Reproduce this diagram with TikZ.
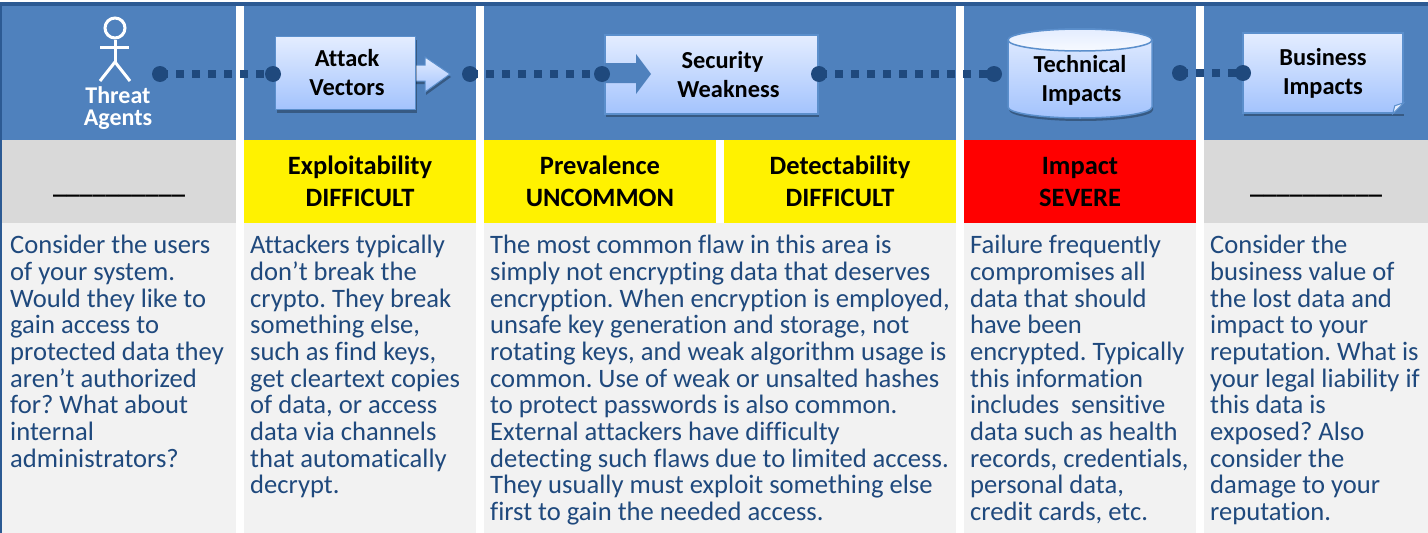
\documentclass[tikz,border=0pt]{standalone}
\usepackage{fontspec}
\setmainfont[Ligatures=NoCommon]{Carlito}
\usepackage{xcolor}
\usepackage{tikz}
\usetikzlibrary{positioning,shapes.geometric,shadows}
\frenchspacing
\definecolor{bandblue}{HTML}{4F81BD}
\definecolor{darkblue}{HTML}{1F497D}
\definecolor{topline}{HTML}{2C5A93}
\definecolor{bodygrey}{HTML}{F2F2F2}
\definecolor{headgrey}{HTML}{D9D9D9}
\definecolor{boxedge}{HTML}{5B8FCC}
\definecolor{boxtop}{HTML}{E4EDFF}
\definecolor{boxbottom}{HTML}{A3C3FD}
\tikzset{
  softshadow/.style={drop shadow={shadow xshift=1pt, shadow yshift=-3pt, opacity=.3, fill=black}},
  band/.style={shape=rectangle, anchor=north west, inner sep=0pt, outer sep=0pt, minimum height=#1},
  headcell/.style={band=83pt, align=center, font=\fontsize{26.5}{32}\selectfont\bfseries, text=black},
  ratecell/.style={headcell, execute at begin node={\vspace*{4pt}}},
  bodytext/.style={anchor=north west, inner sep=0pt, align=left, text=darkblue, font=\fontsize{26.6}{26.7}\selectfont},
  riskbox/.style={shape=rectangle, inner sep=0pt, align=center, draw=boxedge, line width=1.5pt, top color=boxtop, bottom color=boxbottom,
    font=\fontsize{24.4}{29}\selectfont\bfseries, text=black, softshadow},
  linkdot/.style={shape=circle, fill=darkblue, minimum size=16pt, inner sep=0pt},
  linkline/.style={darkblue, line width=8pt, dash pattern=on 8pt off 8pt},
  figline/.style={white, line width=3pt},
}
\begin{document}
\begin{tikzpicture}[x=1pt,y=-1pt]
\useasboundingbox (0,0) rectangle (1428,533);
% frame
\fill[topline] (0,2) rectangle (1428,6);
\fill[topline] (0,2) rectangle (2,533);
% top band
\node[band=134pt, minimum width=234pt, fill=bandblue] (bandthreat) at (2,6) {};
\node[band=134pt, minimum width=232pt, fill=bandblue] (bandattack) at (244,6) {};
\node[band=134pt, minimum width=472pt, fill=bandblue] (bandweak) at (484,6) {};
\node[band=134pt, minimum width=232pt, fill=bandblue] (bandtech) at (964,6) {};
\node[band=134pt, minimum width=224pt, fill=bandblue] (bandbiz) at (1204,6) {};
% rating cells
\node[headcell, minimum width=234pt, fill=headgrey] (cellthreat) at (2,140) {\rule{0pt}{24pt}\raisebox{0pt}[0pt][0pt]{\_\_\_\_\_\_\_\_\_\_}};
\node[ratecell, minimum width=232pt, fill=yellow] (cellexploit) at (244,140) {Exploitability\\DIFFICULT};
\node[ratecell, minimum width=232pt, fill=yellow] (cellprev) at (484,140) {Prevalence\\UNCOMMON};
\node[ratecell, minimum width=232pt, fill=yellow] (celldetect) at (724,140) {Detectability\\DIFFICULT};
\node[ratecell, minimum width=232pt, fill=red] (cellimpact) at (964,140) {Impact\\SEVERE};
\node[headcell, minimum width=224pt, fill=headgrey] (cellbiz) at (1204,140) {\rule{0pt}{24pt}\raisebox{0pt}[0pt][0pt]{\_\_\_\_\_\_\_\_\_\_}};
% body cells
\node[band=310pt, minimum width=234pt, fill=bodygrey] (bodythreat) at (2,223) {};
\node[band=310pt, minimum width=232pt, fill=bodygrey] (bodyattack) at (244,223) {};
\node[band=310pt, minimum width=472pt, fill=bodygrey] (bodyweak) at (484,223) {};
\node[band=310pt, minimum width=232pt, fill=bodygrey] (bodytech) at (964,223) {};
\node[band=310pt, minimum width=224pt, fill=bodygrey] (bodybiz) at (1204,223) {};
\node[bodytext] (textthreat) at (10,235) {Consider the users\\of your system.\\Would they like to\\gain access to\\protected data they\\aren’t authorized\\for? What about\\internal\\administrators?};
\node[bodytext] (textattack) at (250,235) {Attackers typically\\don’t break the\\crypto. They break\\something else,\\such as find keys,\\get cleartext copies\\of data, or access\\data via channels\\that automatically\\decrypt.};
\node[bodytext] (textweak) at (490,235) {The most common flaw in this area is\\simply not encrypting data that deserves\\encryption. When encryption is employed,\\unsafe key generation and storage, not\\rotating keys, and weak algorithm usage is\\common. Use of weak or unsalted hashes\\to protect passwords is also common.\\External attackers have difficulty\\detecting such flaws due to limited access.\\They usually must exploit something else\\first to gain the needed access.};
\node[bodytext] (texttech) at (970,235) {Failure frequently\\compromises all\\data that should\\have been\\encrypted. Typically\\this information\\includes\ \ sensitive\\data such as health\\records, credentials,\\personal data,\\credit cards, etc.};
\node[bodytext] (textbiz) at (1210,235) {Consider the\\business value of\\the lost data and\\impact to your\\reputation. What is\\your legal liability if\\this data is\\exposed? Also\\consider the\\damage to your\\reputation.};
% threat agents figure
\node[shape=circle, draw=white, line width=3pt, minimum size=20pt, inner sep=0pt] (head) at (115,28) {};
\coordinate (hip) at (115,62);
\coordinate (armleft) at (100,47);
\coordinate (armright) at (129,47);
\coordinate (footleft) at (100,81);
\coordinate (footright) at (130,81);
\draw[figline] (head.south) -- (hip);
\draw[figline] (armleft) -- (armright);
\draw[figline] (footleft) -- (hip) -- (footright);
\node[align=center, text=white, inner sep=0pt, font=\fontsize{24}{22}\selectfont\bfseries] (threat) at (118,108) {Threat\\Agents};
% attack vectors
\path[draw=boxedge, line width=1pt, top color=boxtop, bottom color=boxbottom, softshadow] (414,65) -- (425,65) -- (425,57) -- (450,74) -- (425,92) -- (425,81) -- (414,81) -- cycle;
\node[riskbox, minimum width=140pt, minimum height=73pt] (attack) at (345.5,73) {\hspace*{3pt}Attack\\\hspace*{3pt}Vectors};
% security weakness
\node[riskbox, minimum width=213pt, minimum height=79pt] (weak) at (711.5,74.5) {\hspace*{22pt}Security\\\hspace*{34pt}Weakness};
\fill[bandblue] (weak.west |- 0,63) -- (636,63) -- (636,54) -- (651,74) -- (636,94) -- (636,83) -- (weak.west |- 0,83) -- cycle;
% technical impacts
\path[draw=boxedge, line width=1.5pt, top color=boxtop, bottom color=boxbottom, softshadow] (1008,40) -- (1008,107) arc[start angle=180, end angle=360, x radius=72pt, y radius=11pt] -- (1152,40) arc[start angle=0, end angle=180, x radius=72pt, y radius=11pt] -- cycle;
\node[shape=ellipse, draw=boxedge, line width=1.5pt, top color=boxtop, bottom color=white!70!boxtop, minimum width=144pt, minimum height=22pt, inner sep=0pt] (techtop) at (1080,40) {};
\node[align=center, inner sep=0pt, font=\fontsize{24.4}{29}\selectfont\bfseries] (tech) at (1080,80) {Technical\\\hspace*{3pt}Impacts};
% business impacts
\node[riskbox, minimum width=160pt, minimum height=80pt] (biz) at (1323,73) {Business\\Impacts};
\fill[bandblue] (biz.south east) -- ++(-11,0) -- ++(11,-11) -- cycle;
\draw[boxedge, line width=1pt, fill=boxtop] ([xshift=-11pt]biz.south east) -- ++(2,-8) -- ++(9,-3) -- cycle;
% links
\node[linkdot] (threatdot) at (160,74) {};
\node[linkdot] (attackin) at (273,74) {};
\node[linkdot] (attackout) at (470,74) {};
\node[linkdot] (weakin) at (602,74) {};
\node[linkdot] (weakout) at (819,74) {};
\node[linkdot] (techin) at (994,74) {};
\node[linkdot] (techout) at (1180,73) {};
\node[linkdot] (bizin) at (1243,73) {};
\draw[linkline] (threatdot.center) -- (attackin.center);
\draw[linkline] (attackout.center) -- (weakin.center);
\draw[linkline] (weakout.center) -- (techin.center);
\draw[linkline] (techout.center) -- (bizin.center);
\end{tikzpicture}
\end{document}
